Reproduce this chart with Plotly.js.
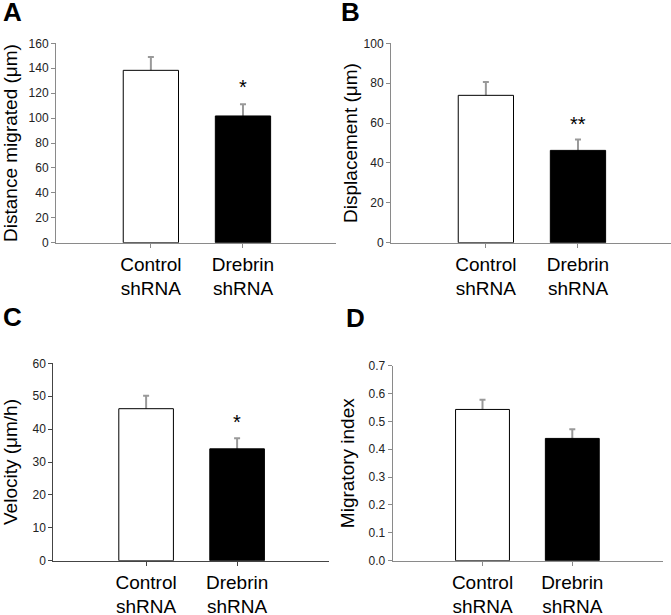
<!DOCTYPE html>
<html>
<head>
<meta charset="utf-8">
<script src="https://cdn.plot.ly/plotly-3.0.1.min.js"></script>
<style>html,body{margin:0;padding:0;background:#fff;}#chart{width:671px;height:615px;}</style>
</head>
<body>
<div id="chart"></div>
<script>
const categories = ['Control<br>shRNA', 'Drebrin<br>shRNA'];
const barColors = ['#ffffff', '#000000'];

const distanceMigrated = [138.3, 101.7];
const distanceMigratedErr = [10.7, 9.3];

const displacement = [73.9, 46.3];
const displacementErr = [6.7, 5.4];

const velocity = [46.2, 34.0];
const velocityErr = [3.9, 3.2];

const migratoryIndex = [0.543, 0.439];
const migratoryIndexErr = [0.035, 0.033];

const yTitles = ['Distance migrated (μm)', 'Displacement (μm)', 'Velocity (μm/h)', 'Migratory index'];
const panelLetters = ['A', 'B', 'C', 'D'];
const significance = ['*', '**', '*', ''];
const starY = [126.5, 60.7, 42.8, null];

const W = 671, H = 615;
const FONT = 'Arial, "Liberation Sans", sans-serif';

const panels = [
  {vals: distanceMigrated, err: distanceMigratedErr, px: [56, 336], py: [43.3, 242.7], xr: [-1.03, 2.01], yr: [0, 160], dt: 20, fmt: '', line: '#8a8a8a', standoff: 12},
  {vals: displacement, err: displacementErr, px: [391, 671], py: [43.3, 242.7], xr: [-1.03, 2.01], yr: [0, 100], dt: 20, fmt: '', line: '#8a8a8a', standoff: 0},
  {vals: velocity, err: velocityErr, px: [53.3, 329], py: [363.3, 560.7], xr: [-1.02, 2.01], yr: [0, 60], dt: 10, fmt: '', line: '#444444', standoff: 11},
  {vals: migratoryIndex, err: migratoryIndexErr, px: [392.7, 663], py: [365.7, 560.7], xr: [-1.0, 2.01], yr: [0, 0.7], dt: 0.1, fmt: '.1f', line: '#8a8a8a', standoff: 8}
];

const data = [];
const layout = {
  width: W, height: H,
  margin: {l: 0, r: 0, t: 0, b: 0},
  paper_bgcolor: '#fff', plot_bgcolor: '#fff',
  showlegend: false,
  barmode: 'overlay',
  font: {family: FONT, color: '#000'},
  annotations: []
};

panels.forEach((p, i) => {
  const n = i + 1;
  const xa = n === 1 ? 'x' : 'x' + n;
  const ya = n === 1 ? 'y' : 'y' + n;
  // error bars first (bars drawn afterwards hide the lower half)
  data.push({
    type: 'bar',
    x: categories,
    y: p.vals,
    width: 0.6,
    xaxis: xa, yaxis: ya,
    marker: {color: 'rgba(0,0,0,0)', line: {width: 0}},
    error_y: {type: 'data', array: p.err, color: '#999999', thickness: 2, width: 3},
    hoverinfo: 'skip'
  });
  data.push({
    type: 'bar',
    x: categories,
    y: p.vals,
    width: 0.6,
    xaxis: xa, yaxis: ya,
    marker: {color: barColors, line: {color: '#000', width: 1}},
    hoverinfo: 'skip'
  });
  const xkey = n === 1 ? 'xaxis' : 'xaxis' + n;
  const ykey = n === 1 ? 'yaxis' : 'yaxis' + n;
  layout[xkey] = {
    domain: [p.px[0] / W, p.px[1] / W],
    anchor: ya,
    type: 'category',
    range: p.xr,
    showgrid: false, zeroline: false,
    showline: true, linecolor: p.line, linewidth: 1,
    ticks: 'outside', ticklen: 4, tickcolor: p.line,
    tickfont: {size: 19, color: '#000', family: FONT},
    fixedrange: true
  };
  layout[ykey] = {
    domain: [1 - p.py[1] / H, 1 - p.py[0] / H],
    anchor: xa,
    range: p.yr,
    dtick: p.dt, tick0: 0,
    tickformat: p.fmt,
    showgrid: false, zeroline: false,
    showline: true, linecolor: p.line, linewidth: 1,
    ticks: 'outside', ticklen: 4, tickcolor: p.line,
    tickfont: {size: 12, color: '#222', family: FONT},
    title: {text: yTitles[i], font: {size: 19, color: '#000', family: FONT}, standoff: p.standoff},
    fixedrange: true
  };
  if (significance[i]) {
    layout.annotations.push({
      xref: xa, yref: ya, x: categories[1], y: starY[i],
      text: significance[i], showarrow: false,
      font: {size: 20, color: '#000', family: FONT},
      xanchor: 'center', yanchor: 'middle', yshift: -2
    });
  }
});

const letterCenters = [[12, 14], [351, 14], [12, 319], [355, 320]];
panelLetters.forEach((L, i) => {
  layout.annotations.push({
    xref: 'paper', yref: 'paper',
    x: letterCenters[i][0] / W, y: 1 - letterCenters[i][1] / H,
    xanchor: 'center', yanchor: 'middle', yshift: 2,
    text: '<b>' + L + '</b>', showarrow: false,
    font: {size: 26, color: '#000', family: FONT}
  });
});

Plotly.newPlot('chart', data, layout, {displayModeBar: false, staticPlot: true});
</script>
</body>
</html>
